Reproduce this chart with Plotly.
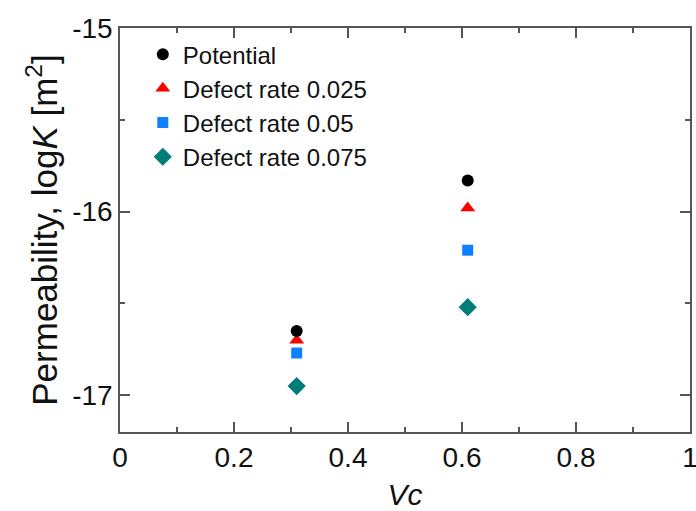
import plotly.graph_objects as go

vc = [0.31, 0.61]
potential = [-16.65, -15.83]
defect_0025 = [-16.70, -15.98]
defect_005 = [-16.77, -16.21]
defect_0075 = [-16.95, -16.52]

x_ticks = [0, 0.2, 0.4, 0.6, 0.8, 1]
x_tick_labels = ["0", "0.2", "0.4", "0.6", "0.8", "1"]
y_ticks = [-17, -16, -15]
y_tick_labels = ["-17", "-16", "-15"]

font = "Liberation Sans, Arial, sans-serif"
axis_col = "#555555"

fig = go.Figure()
fig.add_trace(go.Scatter(x=vc, y=defect_0075, mode="markers", name="Defect rate 0.075",
                         marker=dict(symbol="diamond", size=14, color="#007d78"), legendrank=4))
fig.add_trace(go.Scatter(x=vc, y=defect_005, mode="markers", name="Defect rate 0.05",
                         marker=dict(symbol="square", size=11, color="#0f80ff"), legendrank=3))
fig.add_trace(go.Scatter(x=vc, y=defect_0025, mode="markers", name="Defect rate 0.025",
                         marker=dict(symbol="triangle-up", size=13, color="#ff0000"), legendrank=2))
fig.add_trace(go.Scatter(x=vc, y=potential, mode="markers", name="Potential",
                         marker=dict(symbol="circle", size=12, color="#000000"), legendrank=1))

axis_common = dict(
    showline=True, linecolor=axis_col, linewidth=1.5, mirror="allticks",
    ticks="inside", ticklen=10, tickwidth=1.5, tickcolor=axis_col,
    showgrid=False, zeroline=False, automargin=False, ticklabeloverflow="allow",
    tickfont=dict(family=font, size=28, color="#111111"),
)

fig.update_xaxes(range=[0, 1], tickvals=x_ticks, ticktext=x_tick_labels,
                 minor=dict(dtick=0.1, ticks="inside", ticklen=5, tickwidth=1.5, tickcolor=axis_col),
                 title=dict(text="<i>Vc</i>", font=dict(family=font, size=30, color="#111111"), standoff=12),
                 **axis_common)
fig.update_yaxes(range=[-17.2, -15], tickvals=y_ticks, ticktext=y_tick_labels,
                 minor=dict(tickvals=[-16.5, -15.5], ticks="inside", ticklen=5, tickwidth=1.5, tickcolor=axis_col),
                 title=dict(text="Permeability, log<i>K</i> [m<sup>2</sup>]",
                            font=dict(family=font, size=35, color="#111111"), standoff=4),
                 **axis_common)

fig.update_layout(
    width=696, height=511,
    margin=dict(l=120, r=6, t=28, b=79),
    plot_bgcolor="white", paper_bgcolor="white",
    showlegend=True,
    legend=dict(x=0.04, y=0.99, xanchor="left", yanchor="top",
                font=dict(family=font, size=24, color="#111111"),
                bgcolor="rgba(0,0,0,0)", borderwidth=0, itemsizing="trace",
                tracegroupgap=0),
)

fig.write_html("out.html", config={"displayModeBar": False},
               post_script="document.body.style.margin='0';document.body.style.overflow='hidden';")
